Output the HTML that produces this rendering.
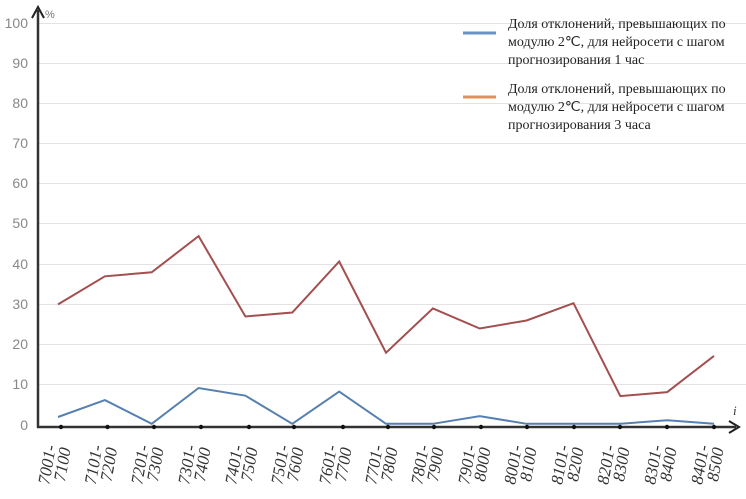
<!DOCTYPE html>
<html><head><meta charset="utf-8"><style>
html,body{margin:0;padding:0;background:#fff;width:746px;height:499px;overflow:hidden}
</style></head><body>
<svg width="746" height="499" viewBox="0 0 746 499" xmlns="http://www.w3.org/2000/svg">
<g stroke="#e3e3e3" stroke-width="1">
<line x1="39" y1="23.5" x2="746" y2="23.5"/>
<line x1="39" y1="63.5" x2="746" y2="63.5"/>
<line x1="39" y1="103.5" x2="746" y2="103.5"/>
<line x1="39" y1="143.5" x2="746" y2="143.5"/>
<line x1="39" y1="183.5" x2="746" y2="183.5"/>
<line x1="39" y1="223.5" x2="746" y2="223.5"/>
<line x1="39" y1="264.5" x2="746" y2="264.5"/>
<line x1="39" y1="304.5" x2="746" y2="304.5"/>
<line x1="39" y1="344.5" x2="746" y2="344.5"/>
<line x1="39" y1="384.5" x2="746" y2="384.5"/>
</g>
<g font-family="Liberation Sans, sans-serif" font-size="14" fill="#888" text-anchor="end">
<text x="28" y="28">100</text><text x="28" y="68">90</text><text x="28" y="108">80</text>
<text x="28" y="148">70</text><text x="28" y="188">60</text><text x="28" y="228">50</text>
<text x="28" y="269">40</text><text x="28" y="309">30</text><text x="28" y="349">20</text>
<text x="28" y="389">10</text><text x="28" y="430">0</text>
</g>
<text x="45" y="18" font-family="Liberation Sans, sans-serif" font-size="11" fill="#777">%</text>
<line x1="38" y1="428" x2="38" y2="10" stroke="#333" stroke-width="2.5"/>
<path d="M32 18 L38 7 L44 18" fill="none" stroke="#222" stroke-width="2"/>
<line x1="37" y1="427" x2="736" y2="427" stroke="#333" stroke-width="2.5"/>
<path d="M729 421 L739 427 L729 433" fill="none" stroke="#222" stroke-width="2"/>
<text x="733" y="415" font-family="Liberation Serif, serif" font-style="italic" font-size="13" fill="#333">i</text>
<polyline fill="none" stroke="#a34f4f" stroke-width="2" points="58,304.4 104.9,276.3 151.7,272.3 198.6,236.1 245.4,316.5 292.3,312.5 339.2,261.5 386,352.7 432.9,308.4 479.7,328.5 526.6,320.5 573.5,303.2 620.3,396.1 667.2,392.1 714,355.9"/>
<polyline fill="none" stroke="#5580b0" stroke-width="2" points="58,417 104.9,400.1 151.7,423.8 198.6,388 245.4,395.7 292.3,423.8 339.2,391.6 386,423.8 432.9,423.8 479.7,416.2 526.6,423.8 573.5,423.8 620.3,423.8 667.2,420.2 714,423.8"/>
<g fill="#111">
<circle cx="61" cy="427" r="2.2"/><circle cx="107.5" cy="427" r="2.2"/><circle cx="154" cy="427" r="2.2"/>
<circle cx="201" cy="427" r="2.2"/><circle cx="249" cy="427" r="2.2"/><circle cx="294" cy="427" r="2.2"/>
<circle cx="343" cy="427" r="2.2"/><circle cx="388" cy="427" r="2.2"/><circle cx="434" cy="427" r="2.2"/>
<circle cx="481" cy="427" r="2.2"/><circle cx="527" cy="427" r="2.2"/><circle cx="574" cy="427" r="2.2"/>
<circle cx="620" cy="427" r="2.2"/><circle cx="667" cy="427" r="2.2"/><circle cx="714" cy="427" r="2.2"/>
</g>
<g font-family="Liberation Serif, serif" font-style="italic" font-size="17" fill="#333" text-anchor="end">
<g transform="translate(56,446) rotate(-80)"><text x="0" y="0">7001-</text><text x="0" y="15">7100</text></g>
<g transform="translate(102.5,446) rotate(-80)"><text x="0" y="0">7101-</text><text x="0" y="15">7200</text></g>
<g transform="translate(149,446) rotate(-80)"><text x="0" y="0">7201-</text><text x="0" y="15">7300</text></g>
<g transform="translate(196,446) rotate(-80)"><text x="0" y="0">7301-</text><text x="0" y="15">7400</text></g>
<g transform="translate(243,446) rotate(-80)"><text x="0" y="0">7401-</text><text x="0" y="15">7500</text></g>
<g transform="translate(289,446) rotate(-80)"><text x="0" y="0">7501-</text><text x="0" y="15">7600</text></g>
<g transform="translate(337,446) rotate(-80)"><text x="0" y="0">7601-</text><text x="0" y="15">7700</text></g>
<g transform="translate(383,446) rotate(-80)"><text x="0" y="0">7701-</text><text x="0" y="15">7800</text></g>
<g transform="translate(429,446) rotate(-80)"><text x="0" y="0">7801-</text><text x="0" y="15">7900</text></g>
<g transform="translate(476,446) rotate(-80)"><text x="0" y="0">7901-</text><text x="0" y="15">8000</text></g>
<g transform="translate(522,446) rotate(-80)"><text x="0" y="0">8001-</text><text x="0" y="15">8100</text></g>
<g transform="translate(569,446) rotate(-80)"><text x="0" y="0">8101-</text><text x="0" y="15">8200</text></g>
<g transform="translate(615,446) rotate(-80)"><text x="0" y="0">8201-</text><text x="0" y="15">8300</text></g>
<g transform="translate(662,446) rotate(-80)"><text x="0" y="0">8301-</text><text x="0" y="15">8400</text></g>
<g transform="translate(709,446) rotate(-80)"><text x="0" y="0">8401-</text><text x="0" y="15">8500</text></g>
</g>
<line x1="463" y1="33" x2="496" y2="33" stroke="#6a93c3" stroke-width="3"/>
<line x1="463" y1="97" x2="496" y2="97" stroke="#e0905a" stroke-width="3"/>
<g font-family="Liberation Serif, serif" font-size="14" fill="#222">
<text x="508" y="28">Доля отклонений, превышающих по</text>
<text x="508" y="46">модулю 2℃, для нейросети с шагом</text>
<text x="508" y="64">прогнозирования 1 час</text>
<text x="508" y="93">Доля отклонений, превышающих по</text>
<text x="508" y="111">модулю 2℃, для нейросети с шагом</text>
<text x="508" y="129">прогнозирования 3 часа</text>
</g>
</svg>
</body></html>
